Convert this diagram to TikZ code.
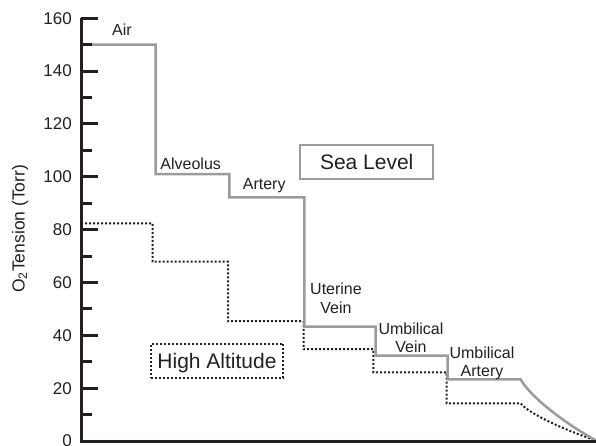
\documentclass[tikz,border=0pt]{standalone}
\usepackage{fontspec}
\setmainfont{Liberation Sans}
\definecolor{ink}{HTML}{231F20}
\definecolor{seagray}{HTML}{9B9B9B}
\begin{document}
\begin{tikzpicture}[x=1pt,y=2.6425pt,
  axisline/.style={line width=3pt,draw=ink},
  sealine/.style={line width=2.5pt,draw=seagray,line join=miter},
  altline/.style={line width=2pt,draw=ink,dash pattern=on 2pt off 2pt},
  ticklabel/.style={anchor=east,inner sep=0pt,text=ink,font=\fontsize{17}{20}\selectfont},
  sitelabel/.style={inner sep=0pt,align=center,text=ink,font=\fontsize{16}{18.5}\selectfont},
  legendbox/.style={minimum width=132.5pt,minimum height=34pt,inner sep=0pt,text depth=0pt,
    text=ink,font=\fontsize{21}{24}\selectfont}]
  \useasboundingbox (0,-1.514) rectangle (596,166.89);

  % high-altitude oxygen cascade (dotted)
  \draw[altline] (81,82.4) -- (152.5,82.4) -- (152.5,67.9) -- (228,67.9) -- (228,45.4)
    -- (303.5,45.4) -- (303.5,34.8) -- (373.3,34.8) -- (373.3,26) -- (446.7,26)
    -- (446.7,14.2) -- (520.7,14.2) .. controls (530.7,9.73) and (571,3.31) .. (596,0.19);

  % sea-level oxygen cascade (grey)
  \draw[sealine] (92,150) -- (155.7,150) -- (155.7,101) -- (229.3,101) -- (229.3,92.2)
    -- (304.3,92.2) -- (304.3,43.3) -- (375.7,43.3) -- (375.7,32.3) -- (447.7,32.3)
    -- (447.7,23.3) -- (520.7,23.3) .. controls (530.7,16.5) and (566,6.43) .. (596,0.2);

  % axes and ticks
  \draw[axisline,line join=miter] (81,160) -- (81,0) -- (596,0);
  \foreach \v in {0,20,...,160} {
    \draw[axisline] (81,\v) -- (98,\v);
    \node[ticklabel] (tick\v) at (72,\v) {\v};
  }
  \foreach \v in {10,30,...,150}
    \draw[axisline] (81,\v) -- (92,\v);

  \node[rotate=90,inner sep=0pt,text=ink,font=\fontsize{17.5}{20}\selectfont] (ylabel)
    at (20,80.3) {O\textsubscript{2}Tension (Torr)};

  % compartment labels
  \node[sitelabel,anchor=base] (air) at (122,153.3) {Air};
  \node[sitelabel,anchor=base] (alveolus) at (190.7,102.8) {Alveolus};
  \node[sitelabel,anchor=base] (artery) at (264.2,95.0) {Artery};
  \node[sitelabel] (uterine) at (336,54.1) {Uterine\\Vein};
  \node[sitelabel] (umbvein) at (411,39.0) {Umbilical\\Vein};
  \node[sitelabel] (umbartery) at (482,29.4) {Umbilical\\Artery};

  % legend boxes
  \node[legendbox,draw=seagray,line width=2pt] (sealevel) at (366.7,105.77) {Sea Level};
  \node[legendbox,draw=ink,line width=2pt,dash pattern=on 2pt off 2pt] (altitude)
    at (217,30.4) {High Altitude};
\end{tikzpicture}
\end{document}
